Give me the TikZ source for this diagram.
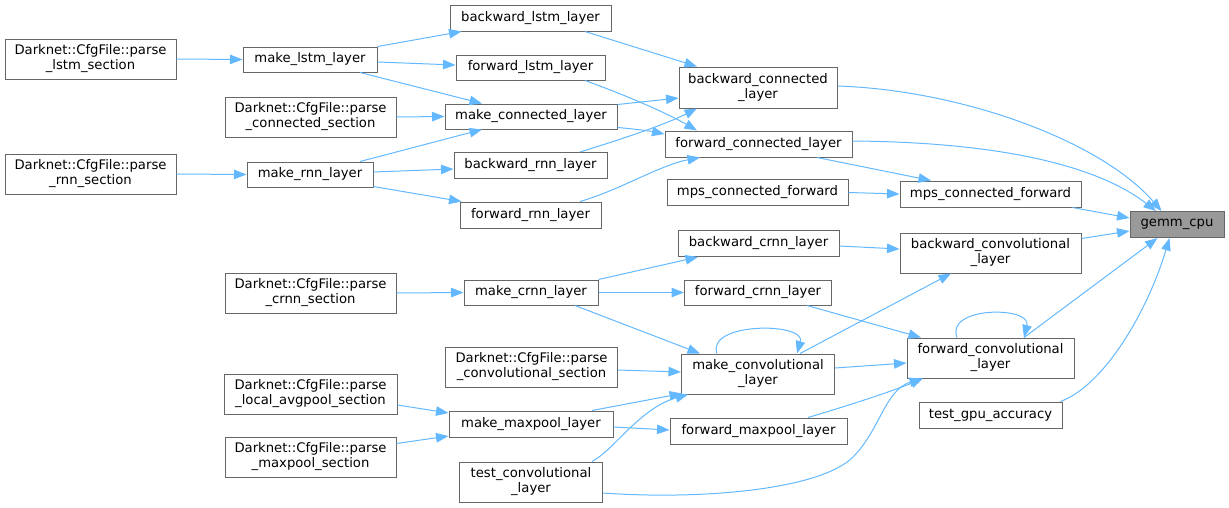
\documentclass[tikz,border=0pt]{standalone}
\usepackage{fontspec}
\setmainfont{DejaVu Sans}
\usetikzlibrary{arrows.meta,calc}
\definecolor{edgeblue}{HTML}{63B8FF}
\definecolor{boxgray}{HTML}{666666}
\definecolor{fillgray}{HTML}{999999}
\tikzset{
  fn/.style={draw=boxgray, line width=1pt, fill=white, inner sep=0pt, align=center,
    font=\fontsize{13.2}{15}\selectfont, text=black},
  fnsel/.style={fn, fill=fillgray},
  edge/.style={draw=edgeblue, line width=1pt, -{Triangle[length=12.5pt,width=9.5pt]}},
}
\newcommand{\bx}[5]{\node[fn, minimum width=#3pt, minimum height=#4pt] (#1) at #2 {#5};}
\begin{document}
\begin{tikzpicture}[x=1pt,y=-1pt]
\useasboundingbox (0,0) rectangle (1229,507);
\bx{bl}{(530.5,18)}{161}{26}{backward\_lstm\_layer}
\bx{plstm}{(90.5,59)}{171}{40}{Darknet::CfgFile::parse\\\_lstm\_section}
\bx{mlstm}{(310,59.5)}{134}{25}{make\_lstm\_layer}
\bx{flstm}{(530.5,67.5)}{149}{25}{forward\_lstm\_layer}
\bx{bconn}{(758,87.5)}{158}{41}{backward\_connected\\\_layer}
\bx{pconn}{(310.5,117)}{171}{40}{Darknet::CfgFile::parse\\\_connected\_section}
\bx{mconn}{(531,116.5)}{172}{25}{make\_connected\_layer}
\bx{fconn}{(758.5,144)}{187}{26}{forward\_connected\_layer}
\bx{prnn}{(90.5,174)}{171}{40}{Darknet::CfgFile::parse\\\_rnn\_section}
\bx{mrnn}{(310,174.5)}{126}{25}{make\_rnn\_layer}
\bx{brnn}{(530.5,165.5)}{153}{26}{backward\_rnn\_layer}
\bx{frnn}{(530.5,215)}{141}{26}{forward\_rnn\_layer}
\bx{mpsl}{(757.5,192.5)}{181}{26}{mps\_connected\_forward}
\bx{mpsr}{(990.5,194)}{181}{26}{mps\_connected\_forward}
\node[fnsel, minimum width=94pt, minimum height=26pt] (gemm) at (1177,224.5) {gemm\_cpu};
\bx{bcrnn}{(758.5,243.5)}{161}{26}{backward\_crnn\_layer}
\bx{bconv}{(990.5,253)}{181}{40}{backward\_convolutional\\\_layer}
\bx{pcrnn}{(310.5,293)}{171}{40}{Darknet::CfgFile::parse\\\_crnn\_section}
\bx{mcrnn}{(531,292.5)}{134}{25}{make\_crnn\_layer}
\bx{fcrnn}{(758,292.5)}{147}{25}{forward\_crnn\_layer}
\bx{fconv}{(990.5,358)}{167}{40}{forward\_convolutional\\\_layer}
\bx{mconv}{(758,374)}{153}{40}{make\_convolutional\\\_layer}
\bx{pconv}{(531.5,367)}{172}{40}{Darknet::CfgFile::parse\\\_convolutional\_section}
\bx{plavg}{(310.5,394)}{173}{40}{Darknet::CfgFile::parse\\\_local\_avgpool\_section}
\bx{mmax}{(531,424)}{164}{26}{make\_maxpool\_layer}
\bx{fmax}{(758.5,431)}{177}{26}{forward\_maxpool\_layer}
\bx{tgpu}{(990.5,415)}{143}{26}{test\_gpu\_accuracy}
\bx{pmax}{(310.5,457)}{171}{40}{Darknet::CfgFile::parse\\\_maxpool\_section}
\bx{tconv}{(531,482)}{143}{40}{test\_convolutional\\\_layer}

% edges
\draw[edge] (plstm.east) -- (mlstm.west);
\draw[edge] (mlstm.north east) -- ($(bl.south west)+(12,0)$);
\draw[edge] ($(mlstm.east)+(0,2.5)$) -- ($(flstm.west)+(0,-2.5)$);
\draw[edge] ($(mlstm.south)+(50,0)$) -- ($(mconn.north)+(-49,0)$);
\draw[edge] (pconn.east) -- (mconn.west);
\draw[edge] ($(mrnn.north)+(50,0)$) -- ($(mconn.south)+(-49,0)$);
\draw[edge] (prnn.east) -- (mrnn.west);
\draw[edge] ($(mrnn.east)+(0,-2.5)$) -- ($(brnn.west)+(0,3.5)$);
\draw[edge] ($(mrnn.south east)+(0,-1)$) -- ($(frnn.north west)+(2,0)$);
\draw[edge] ($(bl.south)+(54.5,0)$) -- ($(bconn.north)+(-61,0)$);
\draw[edge] ($(flstm.south)+(54.5,0)$) .. controls (620,93) and (665,112) .. ($(fconn.north)+(-61.5,0)$);
\draw[edge] ($(mconn.north east)+(0,1)$) -- ($(bconn.west)+(0,10.5)$);
\draw[edge] ($(mconn.south east)+(0,-2)$) .. controls (635,129) and (650,131) .. ($(fconn.west)+(0,-10)$);
\draw[edge] ($(brnn.north)+(49.5,0)$) .. controls (612,142) and (660,127) .. ($(bconn.south)+(-61,0)$);
\draw[edge] ($(frnn.north)+(49.5,0)$) .. controls (620,190) and (660,165) .. ($(fconn.south)+(-58.5,0)$);
\draw[edge] ($(fconn.south)+(58.5,0)$) -- ($(mpsr.north)+(-59.5,0)$);
\draw[edge] (mpsl.east) -- (mpsr.west);
\draw[edge] ($(bconn.east)+(0,-1.5)$) .. controls (960,90) and (1100,140) .. ($(gemm.north)+(-15.5,0)$);
\draw[edge] ($(fconn.east)+(0,-3)$) .. controls (980,142) and (1090,160) .. ($(gemm.north)+(-21,0)$);
\draw[edge] ($(mpsr.south east)+(-9,0)$) -- ($(gemm.west)+(0,-6.5)$);
\draw[edge] ($(bconv.north east)+(0,6)$) -- ($(gemm.west)+(0,6.5)$);
\draw[edge] ($(fconv.north)+(33.5,0)$) -- ($(gemm.south)+(-19.5,0)$);
\draw[edge] ($(tgpu.north east)+(-2,0)$) .. controls (1105,385) and (1148,310) .. ($(gemm.south)+(-7.5,0)$);
\draw[edge] ($(bcrnn.east)+(0,2.5)$) -- ($(bconv.west)+(0,-4)$);
\draw[edge] (mcrnn.north east) -- ($(bcrnn.south)+(-60.5,0)$);
\draw[edge] (mcrnn.east) -- (fcrnn.west);
\draw[edge] ($(mcrnn.south)+(44,0)$) -- ($(mconv.north)+(-58,0)$);
\draw[edge] (pcrnn.east) -- (mcrnn.west);
\draw[edge] ($(fcrnn.south)+(49,0)$) -- ($(fconv.north)+(-69.5,0)$);
\draw[edge] ($(mconv.north)+(42,0)$) -- ($(bconv.south)+(-39.5,0)$);
\draw[edge] ($(mconv.north)+(-41,0)$) .. controls (706,322) and (806,322) .. ($(mconv.north)+(39,0)$);
\draw[edge] ($(mconv.east)+(0,-6)$) -- ($(fconv.west)+(0,5)$);
\draw[edge] ($(pconv.east)+(0,3)$) -- ($(mconv.west)+(0,-2)$);
\draw[edge] ($(mmax.north)+(61,0)$) -- ($(mconv.south west)+(1,-1)$);
\draw[edge] ($(mmax.east)+(0,3)$) -- ($(fmax.west)+(0,-1)$);
\draw[edge] ($(fmax.north)+(49.5,0)$) .. controls (850,405) and (890,392) .. ($(fconv.south)+(-67.5,0)$);
\draw[edge] ($(tconv.north)+(61,0)$) .. controls (614,450) and (640,408) .. ($(mconv.south)+(-70,0)$);
\draw[edge] ($(tconv.east)+(0,11)$) .. controls (700,500) and (820,490) .. (853,457) .. controls (880,430) and (885,390) .. ($(fconv.south)+(-68.5,0)$);
\draw[edge] ($(fconv.north)+(-33.5,0)$) .. controls (945,306) and (1032,306) .. ($(fconv.north)+(33.5,0)$);
\draw[edge] ($(plavg.east)+(0,11)$) -- ($(mmax.west)+(0,-11)$);
\draw[edge] ($(pmax.north east)+(0,7)$) -- ($(mmax.west)+(0,12)$);
\end{tikzpicture}
\end{document}
